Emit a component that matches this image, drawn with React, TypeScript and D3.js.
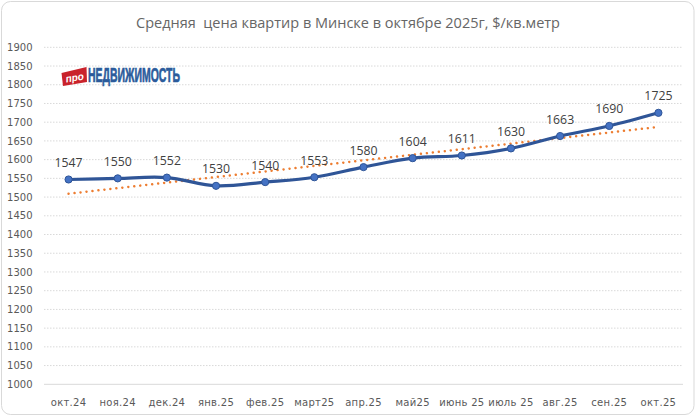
import React from "react";
import * as d3 from "d3";

const categories = ["окт.24", "ноя.24", "дек.24", "янв.25", "фев.25", "март25", "апр.25", "май25", "июнь 25", "июль 25", "авг.25", "сен.25", "окт.25"];
const prices = [1547, 1550, 1552, 1530, 1540, 1553, 1580, 1604, 1611, 1630, 1663, 1690, 1725];
const yTicks = [1000, 1050, 1100, 1150, 1200, 1250, 1300, 1350, 1400, 1450, 1500, 1550, 1600, 1650, 1700, 1750, 1800, 1850, 1900];
const title = "Средняя  цена квартир в Минске в октябре 2025г, $/кв.метр";

const W = 697;
const H = 416;
const left = 44;
const right = 683;
const top = 47.3;
const bottom = 384.3;

export default function App() {
  const x = d3.scaleBand<string>().domain(categories).range([left, right]);
  const cx = (c: string) => (x(c) as number) + x.bandwidth() / 2;
  const y = d3.scaleLinear().domain([1000, 1900]).range([bottom, top]);

  // linear trendline (least squares)
  const mx = d3.mean(prices.map((_, i) => i)) as number;
  const my = d3.mean(prices) as number;
  let sxy = 0, sxx = 0;
  prices.forEach((v, i) => { sxy += (i - mx) * (v - my); sxx += (i - mx) * (i - mx); });
  const slope = sxy / sxx;
  const icpt = my - slope * mx;
  const trend = categories.map((c, i) => [cx(c), y(icpt + slope * i)] as [number, number]);

  const pts = categories.map((c, i) => [cx(c), y(prices[i])] as [number, number]);
  const lineGen = d3.line().curve(d3.curveCatmullRom.alpha(0));
  const trendGen = d3.line();

  return (
    <svg width={W} height={H} style={{ position: "fixed", left: 0, top: 0, background: "#fff" }}>
      <rect x={1.5} y={1.5} width={692.5} height={413} rx={9} fill="#fff" stroke="#d9d9d9" strokeWidth={1} />
      <text x={348} y={27.5} textAnchor="middle" style={{ whiteSpace: "pre" }} fontFamily="'Open Sans', sans-serif" fontSize={14.5} fill="#666666">{title}</text>

      {yTicks.map((t) => (
        <g key={t}>
          <line x1={left} x2={right} y1={y(t)} y2={y(t)} stroke="#d9d9d9" strokeWidth={1} strokeDasharray={t === 1000 ? undefined : "1.5 1.5"} />
          <text x={32.5} y={y(t)} dy="0.36em" textAnchor="end" fontFamily="'DejaVu Sans', sans-serif" fontSize={10} fill="#595959">{t}</text>
        </g>
      ))}

      {categories.map((c) => (
        <text key={c} x={cx(c)} y={405.5} textAnchor="middle" fontFamily="'DejaVu Sans', sans-serif" fontSize={10} letterSpacing={0.3} fill="#595959">{c}</text>
      ))}

      {/* logo */}
      <g>
        <polygon points="61.5,73 86.5,67 87,82 63,86" fill="#c9222b" />
        <text x={74.5} y={81} textAnchor="middle" transform="rotate(-10 74.5 77)" fontFamily="'Liberation Sans', Arial, sans-serif" fontWeight="bold" fontStyle="italic" fontSize={10} fill="#fff">про</text>
        <text x={88} y={81.8} textLength={92} lengthAdjust="spacingAndGlyphs" fontFamily="'Liberation Sans Narrow', 'Liberation Sans', Arial, sans-serif" fontWeight="bold" fontSize={20} fill="#2b5b9b" stroke="#2b5b9b" strokeWidth={0.7}>НЕДВИЖИМОСТЬ</text>
      </g>

      <path d={trendGen(trend) as string} fill="none" stroke="#ed7d31" strokeWidth={2.5} strokeLinecap="round" strokeDasharray="0.01 6" />
      <path d={lineGen(pts) as string} fill="none" stroke="#2f5597" strokeWidth={3.2} strokeLinejoin="round" />
      {pts.map(([px, py], i) => (
        <circle key={i} cx={px} cy={py} r={3.6} fill="#4472c4" stroke="#2f5597" strokeWidth={1} />
      ))}
      {pts.map(([px, py], i) => (
        <text key={"l" + i} x={px} y={py - 12.5} textAnchor="middle" fontFamily="'Open Sans', sans-serif" fontSize={12.3} fill="#404040">{prices[i]}</text>
      ))}
    </svg>
  );
}
